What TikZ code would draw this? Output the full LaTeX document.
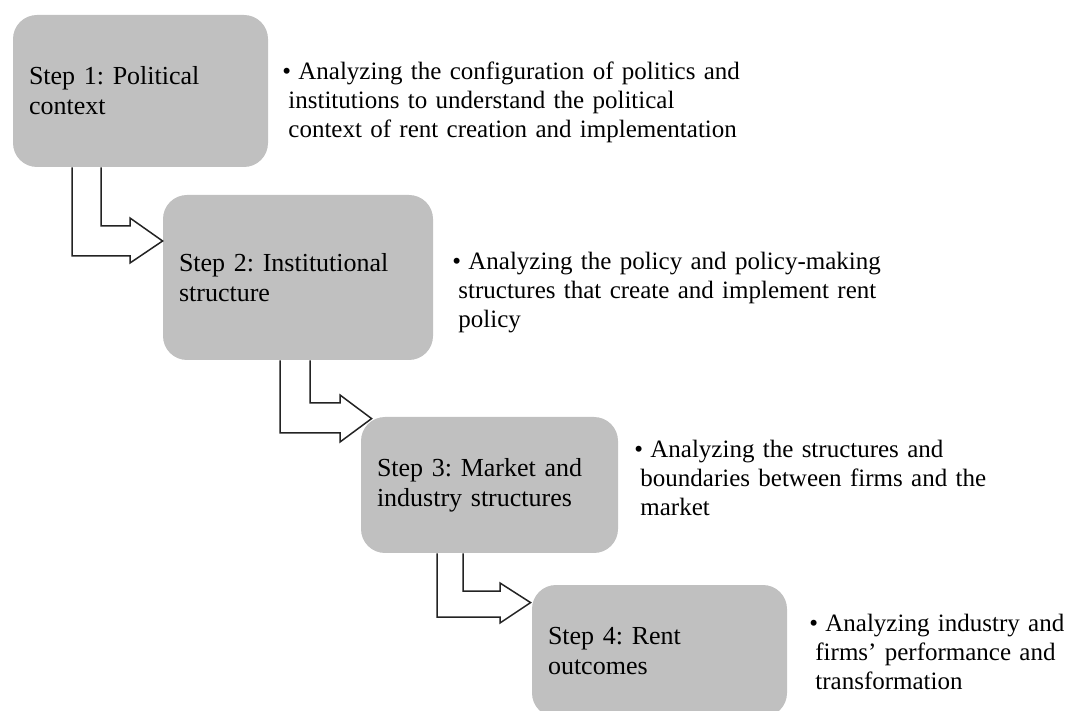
\documentclass[tikz,border=0pt]{standalone}
\usepackage{fontspec}
\setmainfont{Liberation Serif}
\usepackage{tikz}
\usetikzlibrary{positioning, calc}
\definecolor{BoxColor}{RGB}{192,192,192}
\definecolor{LineColor}{RGB}{35,35,35}
\tikzstyle{stepbox} = [fill=BoxColor, rounded corners=12pt, inner xsep=8pt, inner ysep=0pt, align=left, font=\fontsize{13}{15}\selectfont\frenchspacing]
\tikzstyle{desc} = [anchor=base west, inner sep=0pt, align=left, text width=260pt, font=\fontsize{12.5}{14.3}\selectfont\frenchspacing]
\tikzstyle{bentarrow} = [LineColor, line width=0.75pt, fill=white, line join=miter]
\newcommand{\bul}{\hspace*{-3pt}\makebox[8pt][l]{\textbullet}}

\begin{document}
\begin{tikzpicture}[x=0.5pt, y=-0.5pt]
            \useasboundingbox (0,0) rectangle (1067,711);

            % Steps
            \node[stepbox, text width=111.5pt, minimum height=76pt] (step1) at (140.5,91) {Step 1: Political\\context};
            \node[stepbox, text width=119pt, minimum height=82.5pt] (step2) at (298,277.5) {Step 2: Institutional\\structure};
            \node[stepbox, text width=112.5pt, minimum height=68pt] (step3) at (489.5,485) {Step 3: Market and\\industry structures};
            \node[stepbox, text width=111.5pt, minimum height=66pt] (step4) at (659.5,651) {Step 4: Rent\\outcomes};

            % Descriptions
            \node[desc] (desc1) at (288,80) {\bul Analyzing the configuration of politics and\\institutions to understand the political\\context of rent creation and implementation};
            \node[desc] (desc2) at (458,270) {\bul Analyzing the policy and policy-making\\structures that create and implement rent\\policy};
            \node[desc] (desc3) at (640,458) {\bul Analyzing the structures and\\boundaries between firms and the\\market};
            \node[desc] (desc4) at (815,632) {\bul Analyzing industry and\\firms' performance and\\transformation};

            % Arrows
            \draw[bentarrow] (72,0 |- step1.south) -- (72,256) -- (130,256) -- (130,263)
                -- (step2.west |- 0,241) -- (130,218) -- (130,226) -- (101,226) -- (101,0 |- step1.south);
            \draw[bentarrow] (280,0 |- step2.south) -- (280,433) -- (340,433) -- (340,442)
                -- ($(step3.north west)+(11,2)$) -- (340,395) -- (340,403) -- (310,403) -- (310,0 |- step2.south);
            \draw[bentarrow] (437,0 |- step3.south) -- (437,617) -- (500,617) -- (500,623)
                -- ($(step4.north west)+(-1,18)$) -- (500,583) -- (500,591) -- (463,591) -- (463,0 |- step3.south);
\end{tikzpicture}
\end{document}
